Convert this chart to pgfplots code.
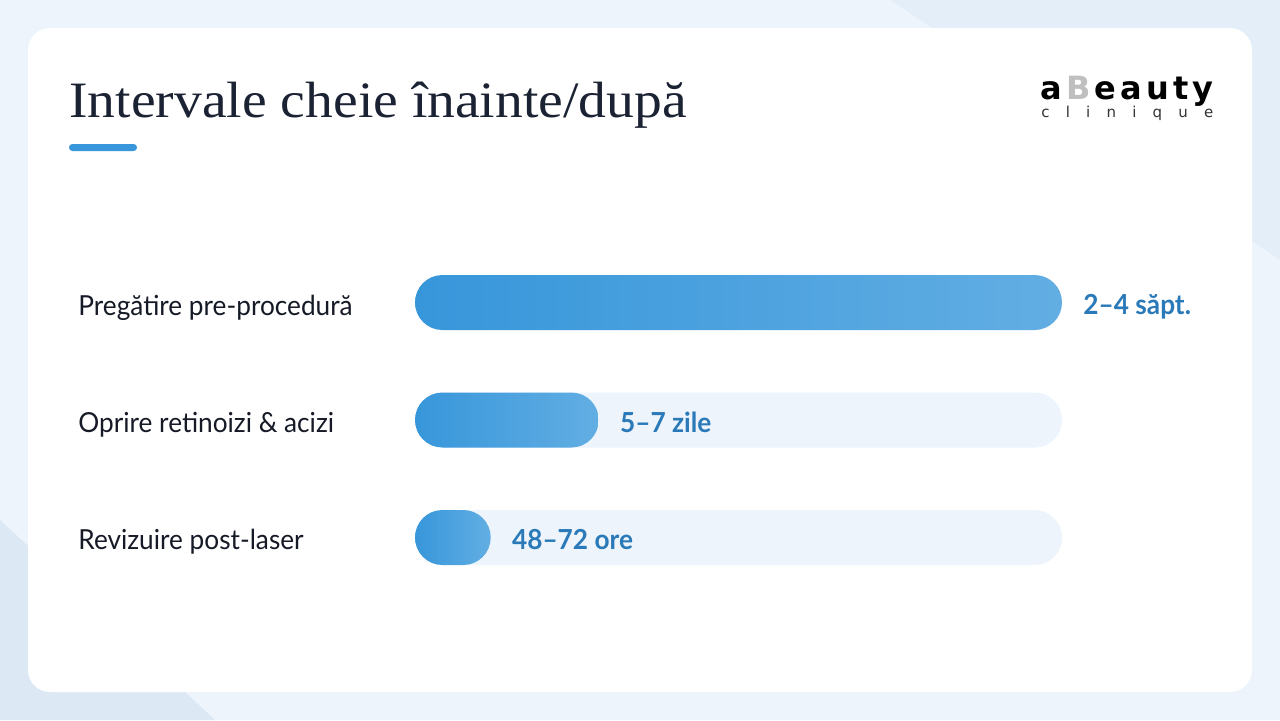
\documentclass[border=0pt]{standalone}
\usepackage{pgfplots}
\pgfplotsset{compat=1.18}
\usepackage{fontspec}
\setmainfont{Lato}
\newfontfamily\titlefont{Liberation Serif}[FakeStretch=1.09]
\newfontfamily\labelfont{Lato}[FakeStretch=0.95]
\newfontfamily\logofont{DejaVu Sans}
\definecolor{bgbase}{HTML}{E4EEF8}
\definecolor{bglight}{HTML}{EDF4FB}
\definecolor{bgdark}{HTML}{DCE9F5}
\definecolor{titlecol}{HTML}{1B2233}
\definecolor{accent}{HTML}{3897DB}
\definecolor{track}{HTML}{EDF4FB}
\definecolor{barL}{HTML}{3796DA}
\definecolor{barR}{HTML}{62AEE3}
\definecolor{valuecol}{HTML}{2A79B8}
\definecolor{labelcol}{HTML}{151A26}
\pgfplotsset{
  valbar/.style={xbar, bar shift=0pt, draw=none, left color=barL, right color=barR, rounded corners=13.7pt,
    nodes near coords, point meta=explicit symbolic,
    every node near coord/.style={anchor=base west, inner sep=0pt, xshift=10.5pt, yshift=-6pt,
      font=\labelfont\bfseries\fontsize{13.8}{16}\selectfont, text=valuecol}},
}
\begin{document}
\begin{tikzpicture}[x=0.5pt,y=-0.5pt]
\fill[bgbase] (0,0) rectangle (1280,720);
\fill[bglight] (0,0) -- (890,0) -- (1280,260) -- (1280,720) -- (215,720) -- (0,520) -- cycle;
\fill[bgdark] (0,520) -- (215,720) -- (0,720) -- cycle;
\fill[white, rounded corners=11pt] (28,28) rectangle (1252,692);
\node[anchor=base west, inner sep=0pt, font=\titlefont\fontsize{25.5}{30}\selectfont, text=titlecol] at (69,117) {Intervale cheie înainte/după};
\fill[accent, rounded corners=1.7pt] (69,144) rectangle (137,151);
\node[anchor=base west, inner sep=0pt, font=\logofont\bfseries\fontsize{16}{18}\selectfont, text=black] at (1040,99) {\makebox[86.5pt][s]{a\hfil\textcolor{black!25}{B}\hfil e\hfil a\hfil u\hfil t\hfil y}};
\node[anchor=base west, inner sep=0pt, font=\logofont\fontsize{7.5}{9}\selectfont, text=black!80] at (1041,117) {\makebox[86pt][s]{c l i n i q u e}};
\node[anchor=base west, inner sep=0pt, font=\labelfont\fontsize{13.8}{16}\selectfont, text=labelcol] at (78,315) {Pregătire pre-procedură};
\node[anchor=base west, inner sep=0pt, font=\labelfont\fontsize{13.8}{16}\selectfont, text=labelcol] at (78,432) {Oprire retinoizi \& acizi};
\node[anchor=base west, inner sep=0pt, font=\labelfont\fontsize{13.8}{16}\selectfont, text=labelcol] at (78,549) {Revizuire post-laser};
\begin{axis}[
  at={(207.5pt,-298.125pt)}, anchor=south west,
  scale only axis, width=323.5pt, height=176.25pt,
  xmin=0, xmax=100, ymin=0.5, ymax=3.5,
  hide axis, clip=false,
  bar width=27.5pt,
]
\addplot[xbar, bar shift=0pt, draw=none, fill=track, rounded corners=13.7pt] coordinates {(100,1) (100,2)};
\addplot[valbar] coordinates {(100,3) [2–4 săpt.]};
\addplot[valbar] coordinates {(28.4,2) [5–7 zile]};
\addplot[valbar] coordinates {(11.7,1) [48–72 ore]};
\end{axis}
\end{tikzpicture}
\end{document}
